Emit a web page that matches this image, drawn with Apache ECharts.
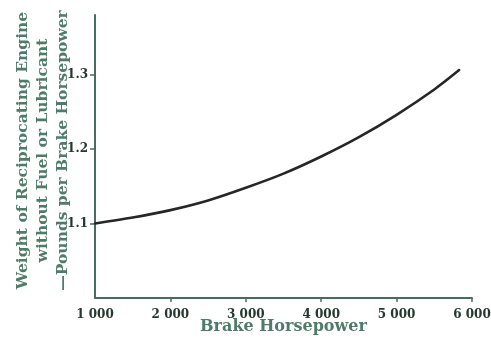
<!DOCTYPE html>
<html>
<head>
<meta charset="utf-8">
<script src="https://cdn.jsdelivr.net/npm/echarts@6/dist/echarts.min.js"></script>
<style>
  html, body { margin: 0; padding: 0; background: #ffffff; }
  #chart { width: 491px; height: 339px; }
</style>
</head>
<body>
<div id="chart"></div>
<script>
// Engine weight per brake horsepower versus brake horsepower
const horsepower = [1000, 1500, 2000, 2500, 3000, 3500, 4000, 4500, 5000, 5500, 5830];
const weightPerBhp = [1.100, 1.108, 1.118, 1.131, 1.148, 1.167, 1.190, 1.216, 1.246, 1.280, 1.306];
const xTickLabels = ['1 000', '2 000', '3 000', '4 000', '5 000', '6 000'];
const yTickLabels = { '1.1': '1.1', '1.2': '1.2', '1.3': '1.3' };

const axisColor = '#4a6b60';
const tickText = '#24382f';
const nameText = '#4f7c6a';
const serif = '"DejaVu Serif", "Liberation Serif", serif';

const chart = echarts.init(document.getElementById('chart'), null, { renderer: 'canvas' });
chart.setOption({
  backgroundColor: '#ffffff',
  animation: false,
  grid: { left: 95, right: 19, top: 15, bottom: 41, containLabel: false, outerBoundsMode: 'none' },
  xAxis: {
    type: 'value',
    min: 1000,
    max: 6000,
    interval: 1000,
    name: 'Brake Horsepower',
    nameLocation: 'middle',
    nameMoveOverlap: false,
    nameGap: 21,
    nameTextStyle: { color: nameText, fontFamily: serif, fontSize: 16, fontWeight: 'bold' },
    axisLine: { show: true, lineStyle: { color: axisColor, width: 2 } },
    axisTick: {
      show: true, length: 4, lineStyle: { color: axisColor, width: 1.5 },
      customValues: [2000, 3000, 4000, 5000, 6000]
    },
    axisLabel: {
      color: tickText, fontFamily: serif, fontSize: 12, fontWeight: 'bold', margin: 11,
      formatter: v => xTickLabels[Math.round((v - 1000) / 1000)] || ''
    },
    splitLine: { show: false }
  },
  yAxis: {
    type: 'value',
    min: 1.0,
    max: 1.38,
    interval: 0.1,
    name: 'Weight of Reciprocating Engine\nwithout Fuel or Lubricant\n\u2014Pounds per Brake Horsepower',
    nameLocation: 'middle',
    nameMoveOverlap: false,
    nameRotate: 90,
    nameGap: 22,
    nameTextStyle: {
      color: nameText, fontFamily: serif, fontSize: 15.5, fontWeight: 'bold',
      lineHeight: 20, align: 'center', padding: [0, 0, 0, 12]
    },
    axisLine: { show: true, lineStyle: { color: axisColor, width: 2 } },
    axisTick: {
      show: true, length: 5, lineStyle: { color: axisColor, width: 1.5 },
      customValues: [1.1, 1.2, 1.3]
    },
    axisLabel: {
      color: tickText, fontFamily: serif, fontSize: 12, fontWeight: 'bold', margin: 7,
      formatter: v => yTickLabels[v.toFixed(1)] || ''
    },
    splitLine: { show: false }
  },
  series: [{
    type: 'line',
    data: horsepower.map((h, i) => [h, weightPerBhp[i]]),
    smooth: 0.3,
    showSymbol: false,
    lineStyle: { color: '#262626', width: 2.6, cap: 'round' }
  }]
});
</script>
</body>
</html>
